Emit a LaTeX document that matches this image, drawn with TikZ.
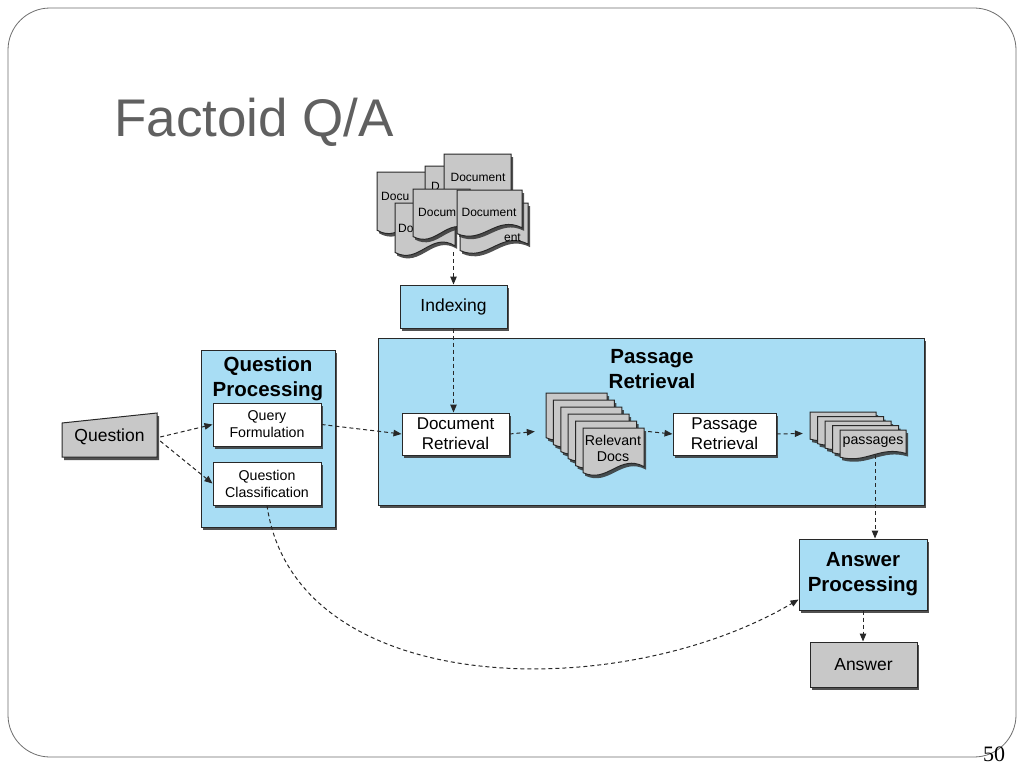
\documentclass[tikz,border=0pt]{standalone}
\usepackage{fontspec}
\setmainfont{Liberation Sans}
\newfontfamily\pnfont{Liberation Serif}
\usetikzlibrary{arrows.meta,shadows}
\definecolor{boxblue}{RGB}{168,221,244}
\definecolor{docgray}{RGB}{200,200,200}
\definecolor{edgec}{RGB}{40,40,40}
\definecolor{titlegray}{RGB}{96,96,96}
\definecolor{framegray}{RGB}{110,110,110}
\tikzset{
  shad/.style={drop shadow={shadow xshift=2pt,shadow yshift=-3pt,opacity=.85,fill=black!80}},
  bluebox/.style={draw=edgec,line width=1pt,fill=boxblue,shad,inner sep=0pt},
  whitebox/.style={draw=edgec,line width=1pt,fill=white,shad,inner sep=0pt,align=center,font=\fontsize{17}{20}\selectfont},
  smallwhite/.style={whitebox,font=\fontsize{14.2}{17}\selectfont},
  graybox/.style={draw=edgec,line width=1pt,fill=docgray,shad,inner sep=0pt,align=center,font=\fontsize{17.5}{20}\selectfont},
  docst/.style={draw=edgec,line width=1pt,fill=docgray,shad},
  hidden/.style={inner sep=0pt,draw=none,align=center},
  bigtitle/.style={inner sep=0pt,align=center,font=\fontsize{20.5}{25}\selectfont\bfseries},
  doctext/.style={inner sep=0pt,font=\fontsize{12}{14}\selectfont},
  stacktext/.style={inner sep=0pt,align=center,font=\fontsize{14.2}{16}\selectfont},
  flow/.style={draw=edgec,line width=1pt,dash pattern=on 4pt off 3pt,-{Triangle[length=8pt,width=6.5pt]}}
}
% document shape: x1 y1 x2 y2
\newcommand\docsh[4]{%
  \filldraw[docst] (#1,#2) -- (#3,#2) -- (#3,{#4-0.16*(#4-#2)})
    .. controls ({#3-0.4*(#3-#1)},{#4-0.45*(#4-#2)}) and ({#1+0.4*(#3-#1)},{#4+0.22*(#4-#2)})
    .. (#1,{#4-0.03*(#4-#2)}) -- cycle;}
\begin{document}
\begin{tikzpicture}[x=1pt,y=-1pt]
\useasboundingbox (0,0) rectangle (1024,768);
\fill[white] (0,0) rectangle (1024,768);
% slide frame
\draw[framegray,line width=.8pt,rounded corners=42pt] (8,8) rectangle (1016,757);
% title
\node[anchor=base west,inner sep=0pt,font=\fontsize{53}{60}\selectfont,text=titlegray] (title) at (114,136) {Factoid Q/A};
\node[inner sep=0pt,font=\pnfont\fontsize{22}{24}\selectfont] (pg) at (994,754) {50};

% ---- document pile at top ----
\node[hidden,minimum width=151pt,minimum height=98pt] (docs) at (452.5,203) {};
\docsh{377}{172}{440}{232}
\node[doctext,anchor=west] (dA) at (381,196) {Docu};
\docsh{425}{166}{490}{217}
\node[doctext,anchor=west] (dB) at (431,186) {D};
\docsh{444}{154}{511}{203}
\node[doctext] (dC) at (478,177) {Document};
\docsh{395}{203}{455}{254}
\node[doctext,anchor=west] (dD) at (398,228) {Do};
\docsh{460}{203}{528}{252}
\node[doctext,anchor=east] (dG) at (521,238) {ent};
\docsh{413}{189}{470}{238}
\node[doctext,anchor=west] (dE) at (418,212) {Docum};
\docsh{457}{190}{522}{235}
\node[doctext] (dF) at (489,212) {Document};

% ---- Indexing ----
\node[bluebox,minimum width=107pt,minimum height=43pt,font=\fontsize{17.5}{20}\selectfont] (idx) at (453.5,306.5) {Indexing};

% ---- Question ----
\filldraw[docst] (62,423) -- (157,413) -- (157,457) -- (62,457) -- cycle;
\node[hidden,minimum width=95pt,minimum height=44pt,font=\fontsize{17.5}{20}\selectfont] (ques) at (109.5,437) {Question};

% ---- Question Processing ----
\node[bluebox,minimum width=134pt,minimum height=177pt] (qp) at (268,438.5) {};
\node[bigtitle] (qpt) at (268,378.5) {Question\\Processing};
\node[smallwhite,minimum width=108pt,minimum height=43pt] (qf) at (267,424.5) {Query\\Formulation};
\node[smallwhite,minimum width=108pt,minimum height=43pt] (qc) at (267,483.5) {Question\\Classification};

% ---- Passage Retrieval ----
\node[bluebox,minimum width=546pt,minimum height=167pt] (pr) at (651,421.5) {};
\node[bigtitle] (prtt) at (652,369.5) {Passage\\Retrieval};
\node[whitebox,minimum width=107pt,minimum height=42pt] (dr) at (455.5,434) {Document\\Retrieval};
\node[whitebox,minimum width=103pt,minimum height=42pt] (prt) at (724.5,434) {Passage\\Retrieval};

% relevant docs stack
\node[hidden,minimum width=109pt,minimum height=77pt] (rd) at (589.5,431.5) {};
\foreach \i in {0,...,5}{
  \pgfmathsetmacro\xa{546+7.4*\i}
  \pgfmathsetmacro\ya{393+7*\i}
  \pgfmathsetmacro\xb{\xa+61}
  \pgfmathsetmacro\yb{\ya+46}
  \docsh{\xa}{\ya}{\xb}{\yb}
}
\node[stacktext] (rdt) at (613,448) {Relevant\\Docs};

% passages stack
\node[hidden,minimum width=103pt,minimum height=43pt] (pas) at (854.5,433.5) {};
\foreach \i in {0,...,4}{
  \pgfmathsetmacro\xa{810+7.5*\i}
  \pgfmathsetmacro\ya{412+4.5*\i}
  \pgfmathsetmacro\xb{\xa+66}
  \pgfmathsetmacro\yb{\ya+28}
  \docsh{\xa}{\ya}{\xb}{\yb}
}
\node[stacktext] (past) at (873,442) {passages};

% ---- Answer Processing / Answer ----
\node[bluebox,minimum width=128pt,minimum height=71pt] (ap) at (863,574.5) {};
\node[bigtitle] (apt) at (863,574) {Answer\\Processing};
\node[graybox,minimum width=107pt,minimum height=45pt] (ans) at (863.5,664.5) {Answer};
\coordinate (apin) at ([xshift=12pt]ap.north);
\coordinate (apcurve) at ([yshift=-25pt]ap.west);

% ---- connectors ----
\draw[flow] (idx.north |- docs.south) -- (idx.north);
\draw[flow] (idx.south) -- (idx.south |- dr.north);
\draw[flow] ([xshift=3pt,yshift=0pt]ques.east) -- (qf.west);
\draw[flow] ([xshift=3pt,yshift=-4pt]ques.east) -- (qc.west);
\draw[flow] (qf.east) -- (dr.west);
\draw[flow] (dr.east) -- (rd.west);
\draw[flow] ([xshift=4pt]rd.east) -- (prt.west);
\draw[flow] (prt.east) -- (pas.west);
\draw[flow] (pas.south -| apin) -- (apin);
\draw[flow] (ap.south) -- (ap.south |- ans.north);
\draw[flow] (qc.south) .. controls (295,700) and (620,705) .. (apcurve);
\end{tikzpicture}
\end{document}
